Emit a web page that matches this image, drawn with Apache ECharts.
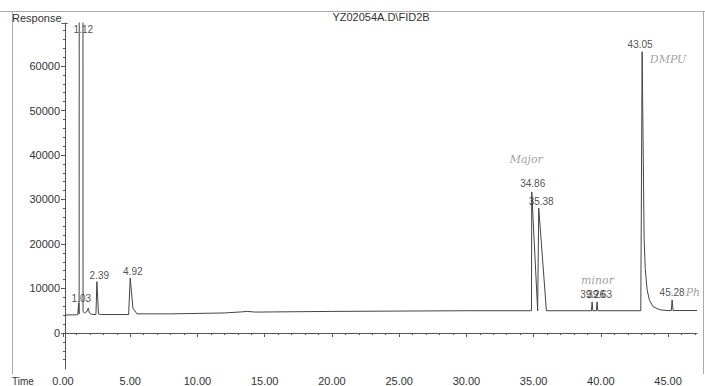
<!DOCTYPE html>
<html>
<head>
<meta charset="utf-8">
<script src="https://cdn.jsdelivr.net/npm/echarts@6/dist/echarts.min.js"></script>
<style>
html,body{margin:0;padding:0;background:#fff;}
#chart{width:705px;height:386px;}
</style>
</head>
<body>
<div id="chart"></div>
<script>
// ---- data ----
const chartTitle = 'YZ02054A.D\\FID2B';
const yAxisName = 'Response_';
const xAxisName = 'Time';

// chromatogram trace (time in min, response)
const traceTime = [0.15, 0.95, 1.10, 1.16, 1.20, 1.22, 1.355, 1.49, 1.60, 1.80, 1.88, 1.97, 2.10, 2.45, 2.52, 2.64, 2.80,
  4.88, 5.00, 5.20, 5.50, 8.00, 12.0, 13.3, 13.7, 14.3, 20.0, 30.0,
  34.84, 34.86, 35.30, 35.32, 35.38, 35.95,
  39.30, 39.35, 39.40, 39.67, 39.72, 39.77,
  42.97, 43.07, 43.22, 43.30, 43.44, 43.62, 43.89, 44.40, 45.00,
  45.24, 45.30, 45.37, 47.15];
const traceResp = [4050, 4080, 4100, 6700, 4300, 4300, 2000000, 4800, 4500, 4900, 5600, 4500, 4200, 4150, 11530, 4300, 4150,
  4150, 12360, 5600, 4300, 4300, 4500, 4750, 4850, 4700, 4850, 5000,
  5000, 31700, 5000, 5000, 28100, 5000,
  5000, 7000, 5000, 5000, 7000, 5000,
  5000, 63200, 21000, 14500, 9700, 7300, 5900, 5200, 5050,
  5050, 7400, 5050, 5050];

// peak labels (text, and where the text sits)
const peakLabels = ['1.03', '1.12', '2.39', '4.92', '34.86', '35.38', '39.26', '39.63', '43.05', '45.28'];
const peakLabelTime = [1.36, 1.51, 2.70, 5.19, 34.93, 35.56, 39.39, 39.91, 42.92, 45.30];
const peakLabelResp = [7865, 68090, 13030, 13930, 33700, 29440, 8540, 8540, 64720, 8990];

// handwritten notes
const notes = ['Major', 'minor', 'DMPU', 'Ph'];
const noteTime = [34.45, 39.75, 45.0, 46.85];
const noteResp = [39000, 11800, 61500, 8990];

// axes
const xTicks = [0, 5, 10, 15, 20, 25, 30, 35, 40, 45];
const xMinorTicks = [1, 2, 3, 4, 6, 7, 8, 9, 11, 12, 13, 14, 16, 17, 18, 19, 21, 22, 23, 24, 26, 27, 28, 29,
  31, 32, 33, 34, 36, 37, 38, 39, 41, 42, 43, 44, 46, 47];
const yTicks = [0, 10000, 20000, 30000, 40000, 50000, 60000];
const yMinorTicks = [-6000, -4000, -2000, 2000, 4000, 6000, 8000, 12000, 14000, 16000, 18000, 22000, 24000, 26000, 28000,
  32000, 34000, 36000, 38000, 42000, 44000, 46000, 48000, 52000, 54000, 56000, 58000, 62000, 64000, 66000, 68000];
const xMin = 0, xMax = 47.15;
const yMin = -8090, yMax = 69663;

// ---- chart ----
const font = 'Liberation Sans, Arial, sans-serif';
const axisColor = '#555';
const chart = echarts.init(document.getElementById('chart'), null, {renderer: 'svg'});

const baseX = {type: 'value', min: xMin, max: xMax, position: 'bottom', splitLine: {show: false}};
const baseY = {type: 'value', min: yMin, max: yMax, position: 'left', offset: -2, splitLine: {show: false}};

chart.setOption({
  animation: false,
  backgroundColor: '#fff',
  grid: {left: 63, right: 8, top: 23, bottom: 17},
  xAxis: [
    Object.assign({}, baseX, {
      axisLine: {show: true, lineStyle: {color: axisColor, width: 1}},
      axisTick: {show: true, customValues: xTicks, length: 4, lineStyle: {color: axisColor}},
      axisLabel: {show: true, customValues: xTicks, margin: 6, fontSize: 11, fontFamily: font, color: '#333',
        formatter: v => v.toFixed(2)}
    }),
    Object.assign({}, baseX, {
      axisLine: {show: false},
      axisTick: {show: true, customValues: xMinorTicks, length: 2, lineStyle: {color: axisColor}},
      axisLabel: {show: false}
    })
  ],
  yAxis: [
    Object.assign({}, baseY, {
      axisLine: {show: true, lineStyle: {color: axisColor, width: 1}},
      axisTick: {show: true, customValues: yTicks, length: 4, lineStyle: {color: axisColor}},
      axisLabel: {show: true, customValues: yTicks, margin: 5, fontSize: 11, fontFamily: font, color: '#333',
        formatter: v => String(v)}
    }),
    Object.assign({}, baseY, {
      axisLine: {show: false},
      axisTick: {show: true, customValues: yMinorTicks, length: 2, lineStyle: {color: axisColor}},
      axisLabel: {show: false}
    })
  ],
  graphic: [
    {type: 'line', shape: {x1: 0, y1: 11.5, x2: 705, y2: 11.5}, style: {stroke: '#aaa', lineWidth: 1}, silent: true},
    {type: 'line', shape: {x1: 12.5, y1: 11, x2: 12.5, y2: 374}, style: {stroke: '#aaa', lineWidth: 1}, silent: true},
    {type: 'line', shape: {x1: 703.5, y1: 11, x2: 703.5, y2: 374}, style: {stroke: '#aaa', lineWidth: 1}, silent: true},
    {type: 'text', x: 381, y: 17, style: {text: chartTitle, font: '11px ' + font, fill: '#333', align: 'center', verticalAlign: 'middle'}, silent: true},
    {type: 'text', x: 12, y: 18, style: {text: yAxisName, font: '11px ' + font, fill: '#333', verticalAlign: 'middle'}, silent: true},
    {type: 'text', x: 12, y: 381, style: {text: xAxisName, font: '10px ' + font, fill: '#333', verticalAlign: 'middle'}, silent: true}
  ],
  series: [
    {
      type: 'line',
      xAxisIndex: 0, yAxisIndex: 0,
      data: traceTime.map((t, i) => [t, traceResp[i]]),
      showSymbol: false,
      symbol: 'none',
      clip: true,
      lineStyle: {color: '#444', width: 1},
      silent: true,
      z: 3
    },
    {
      type: 'scatter',
      xAxisIndex: 0, yAxisIndex: 0,
      data: peakLabelTime.map((t, i) => [t, peakLabelResp[i], peakLabels[i]]),
      symbolSize: 1,
      itemStyle: {color: 'rgba(0,0,0,0)'},
      label: {show: true, position: 'inside', formatter: p => p.data[2], fontSize: 10, fontFamily: font, color: '#222'},
      labelLayout: {hideOverlap: false},
      silent: true,
      z: 4
    },
    {
      type: 'scatter',
      xAxisIndex: 0, yAxisIndex: 0,
      data: noteTime.map((t, i) => [t, noteResp[i], notes[i]]),
      symbolSize: 1,
      itemStyle: {color: 'rgba(0,0,0,0)'},
      label: {show: true, position: 'inside', formatter: p => p.data[2], fontSize: 11, fontStyle: 'italic',
        fontFamily: 'DejaVu Serif, serif', color: '#888'},
      silent: true,
      clip: false,
      z: 4
    }
  ]
});
</script>
</body>
</html>
